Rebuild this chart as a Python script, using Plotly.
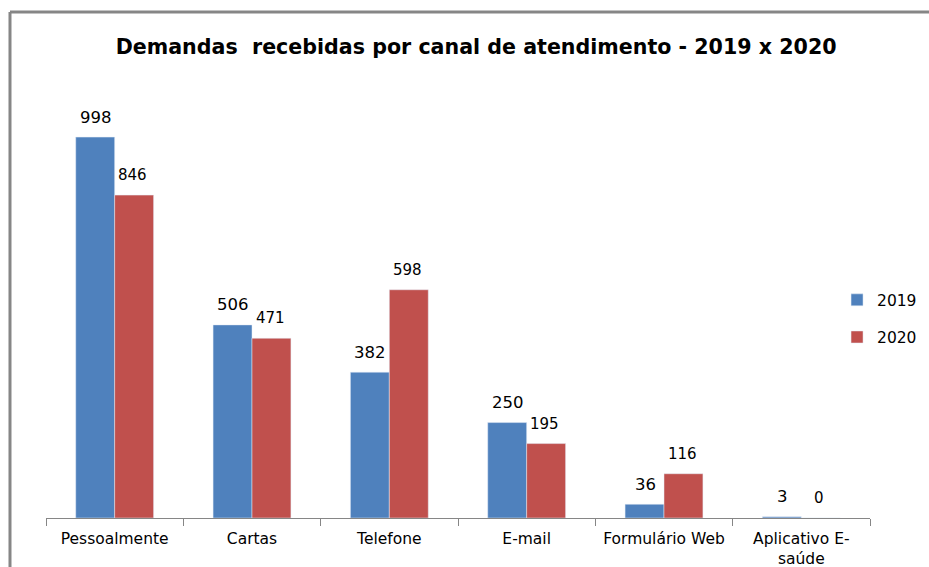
import plotly.graph_objects as go

categories = ["Pessoalmente", "Cartas", "Telefone", "E-mail", "Formulário Web", "Aplicativo E-<br>saúde"]
values_2019 = [998, 506, 382, 250, 36, 3]
values_2020 = [846, 471, 598, 195, 116, 0]
series_names = ["2019", "2020"]
title_text = "Demandas  recebidas por canal de atendimento - 2019 x 2020"

BLUE = "#4F81BD"
RED = "#C0504D"
FONT = "DejaVu Sans"

fig = go.Figure()
fig.add_trace(go.Bar(x=categories, y=values_2019, name=series_names[0], marker_color=BLUE,
                     legendgroup="a"))
fig.add_trace(go.Bar(x=categories, y=values_2020, name=series_names[1], marker_color=RED,
                     legendgroup="b"))

annotations = []
for c, v in zip(categories, values_2019):
    annotations.append(dict(x=c, y=v, xref="x", yref="y", text=str(v), showarrow=False,
                            xshift=-19, yshift=20, yanchor="middle",
                            font=dict(family=FONT, size=16.5, color="#000000")))
for c, v in zip(categories, values_2020):
    annotations.append(dict(x=c, y=v, xref="x", yref="y", text=str(v), showarrow=False,
                            xshift=18, yshift=20, yanchor="middle",
                            font=dict(family=FONT, size=15, color="#000000")))

fig.update_layout(
    width=929, height=567,
    margin=dict(l=46, r=59, t=60, b=49, autoexpand=False),
    paper_bgcolor="white", plot_bgcolor="white",
    barmode="group", bargap=0.433, bargroupgap=0,
    title=dict(text=title_text, x=0.522, xref="paper", xanchor="center",
               y=1 - 47 / 567, yref="container", yanchor="middle",
               font=dict(family=FONT, size=20.6, color="#000000", weight="bold")),
    legend=dict(x=0.960, xanchor="left", y=0.435, yanchor="middle",
                font=dict(family=FONT, size=15.5, color="#000000"),
                traceorder="grouped", tracegroupgap=14, itemwidth=30,
                bgcolor="rgba(0,0,0,0)"),
    annotations=annotations,
    shapes=[
        dict(type="line", xref="paper", yref="paper", x0=-0.0437, x1=1.2, y0=1.105, y1=1.105,
             line=dict(color="#868686", width=3), layer="below"),
        dict(type="line", xref="paper", yref="paper", x0=-0.0437, x1=-0.0437, y0=-0.3, y1=1.105,
             line=dict(color="#868686", width=3), layer="below"),
    ],
)
fig.update_xaxes(showline=True, linecolor="#868686", linewidth=1, automargin=False,
                 ticks="outside", tickson="boundaries", ticklen=7, tickcolor="#868686",
                 ticklabelstandoff=6,
                 tickfont=dict(family=FONT, size=15.5, color="#000000"),
                 showgrid=False)
fig.update_yaxes(visible=False, range=[0, 1200], showgrid=False, automargin=False)

fig.write_html("out.html", post_script="document.body.style.margin='0';",
               config={"displayModeBar": False})
